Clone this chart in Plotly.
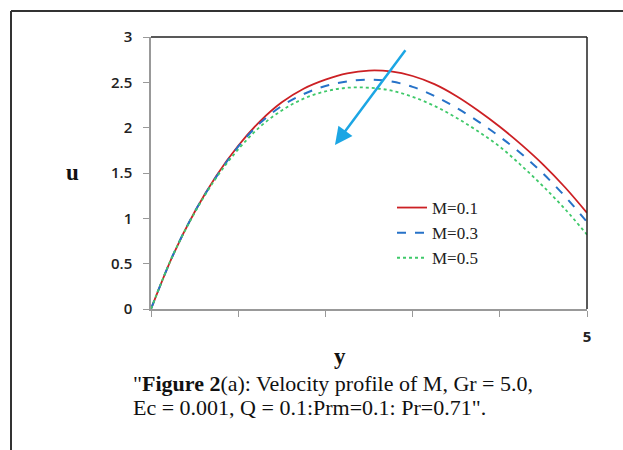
import plotly.graph_objects as go

# data
y_vals = [0, 0.25, 0.5, 0.75, 1.0, 1.25, 1.5, 1.75, 2.0, 2.25, 2.5,
          2.75, 3.0, 3.25, 3.5, 3.75, 4.0, 4.25, 4.5, 4.75, 5.0]
u_m01 = [0, 0.59, 1.07, 1.47, 1.80, 2.07, 2.28, 2.43, 2.53, 2.60, 2.63,
         2.62, 2.57, 2.48, 2.35, 2.19, 2.01, 1.81, 1.59, 1.34, 1.06]
u_m03 = [0, 0.59, 1.07, 1.46, 1.79, 2.05, 2.24, 2.37, 2.46, 2.51, 2.53,
         2.51, 2.45, 2.35, 2.22, 2.07, 1.90, 1.71, 1.49, 1.24, 0.96]
u_m05 = [0, 0.59, 1.06, 1.45, 1.76, 2.01, 2.19, 2.32, 2.40, 2.44, 2.44,
         2.41, 2.34, 2.24, 2.11, 1.96, 1.79, 1.58, 1.35, 1.10, 0.82]
series_names = ["M=0.1", "M=0.3", "M=0.5"]
x_tickvals = [0, 1, 2, 3, 4, 5]
x_ticktext = ["", "", "", "", "", "<b>5</b>"]
y_tickvals = [0, 0.5, 1, 1.5, 2, 2.5, 3]
y_ticktext = ["0", "0.5", "1", "1.5", "2", "2.5", "3"]

W, H = 623, 450
L, R, T, B = 151, 587, 37, 309


def px(xp):
    return (xp - L) / (R - L)


def py(yp):
    return (B - yp) / (B - T)


fig = go.Figure()
fig.add_trace(go.Scatter(x=y_vals, y=u_m01, name=series_names[0], mode="lines",
                         line=dict(color="#cc2024", width=1.8, shape="spline")))
fig.add_trace(go.Scatter(x=y_vals, y=u_m03, name=series_names[1], mode="lines",
                         line=dict(color="#2672c8", width=2, dash="dash", shape="spline")))
fig.add_trace(go.Scatter(x=y_vals, y=u_m05, name=series_names[2], mode="lines",
                         line=dict(color="#3fc96a", width=1.8, dash="dot", shape="spline")))

serif = "Liberation Serif"
sans = "Open Sans"

fig.update_layout(
    width=W, height=H,
    margin=dict(l=L, r=W - R, t=T, b=H - B),
    paper_bgcolor="white", plot_bgcolor="white",
    showlegend=True,
    legend=dict(x=px(392), y=py(190), xanchor="left", yanchor="top",
                font=dict(family=serif, size=17, color="#222"),
                bgcolor="rgba(0,0,0,0)", tracegroupgap=0, itemwidth=30),
    xaxis=dict(range=[0, 5], tickvals=x_tickvals, ticktext=x_ticktext,
               showgrid=False, zeroline=False, showline=True, linecolor="#999",
               linewidth=1.5, ticks="outside", ticklen=6, tickcolor="#999",
               tickfont=dict(family=sans, size=15, color="#222"),
               ticklabelstandoff=7, fixedrange=True),
    yaxis=dict(range=[0, 3], tickvals=y_tickvals, ticktext=y_ticktext,
               showgrid=False, zeroline=False, showline=True, linecolor="#999",
               linewidth=1.5, ticks="outside", ticklen=6, tickcolor="#999",
               tickfont=dict(family=sans, size=15, color="#222", weight=600),
               ticklabelstandoff=8, fixedrange=True),
)

# plot box top/right border
fig.add_shape(type="line", xref="paper", yref="paper", x0=0, x1=1, y0=1, y1=1,
              line=dict(color="#222", width=1.5))
fig.add_shape(type="line", xref="paper", yref="paper", x0=1, x1=1, y0=0, y1=1,
              line=dict(color="#222", width=1.5))
# outer frame
fig.add_shape(type="line", xref="paper", yref="paper", x0=px(11), x1=px(625),
              y0=py(11), y1=py(11), line=dict(color="#333", width=2))
fig.add_shape(type="line", xref="paper", yref="paper", x0=px(11), x1=px(11),
              y0=py(11), y1=py(452), line=dict(color="#333", width=2))

# arrow
fig.add_annotation(x=2.11, y=1.81, ax=2.93, ay=2.87, xref="x", yref="y",
                   axref="x", ayref="y", text="", showarrow=True,
                   arrowhead=2, arrowsize=1.4, arrowwidth=2.5, arrowcolor="#1ca6e4")

# axis titles
fig.add_annotation(x=px(72), y=py(172), xref="paper", yref="paper", text="<b>u</b>",
                   xanchor="center", yanchor="middle",
                   showarrow=False, font=dict(family=serif, size=23, color="#111"))
fig.add_annotation(x=px(340), y=py(356), xref="paper", yref="paper", text="<b>y</b>",
                   xanchor="center", yanchor="middle",
                   showarrow=False, font=dict(family=serif, size=23, color="#111"))

# caption
fig.add_annotation(x=px(131), y=py(383), xref="paper", yref="paper",
                   xanchor="left", yanchor="middle",
                   text="\"<b>Figure 2</b>(a): Velocity profile of M, Gr = 5.0,",
                   showarrow=False, font=dict(family=serif, size=22, color="#111"))
fig.add_annotation(x=px(131), y=py(407), xref="paper", yref="paper",
                   xanchor="left", yanchor="middle",
                   text="Ec = 0.001, Q = 0.1:Prm=0.1: Pr=0.71\".",
                   showarrow=False, font=dict(family=serif, size=22, color="#111"))

fig.write_html("out.html")
